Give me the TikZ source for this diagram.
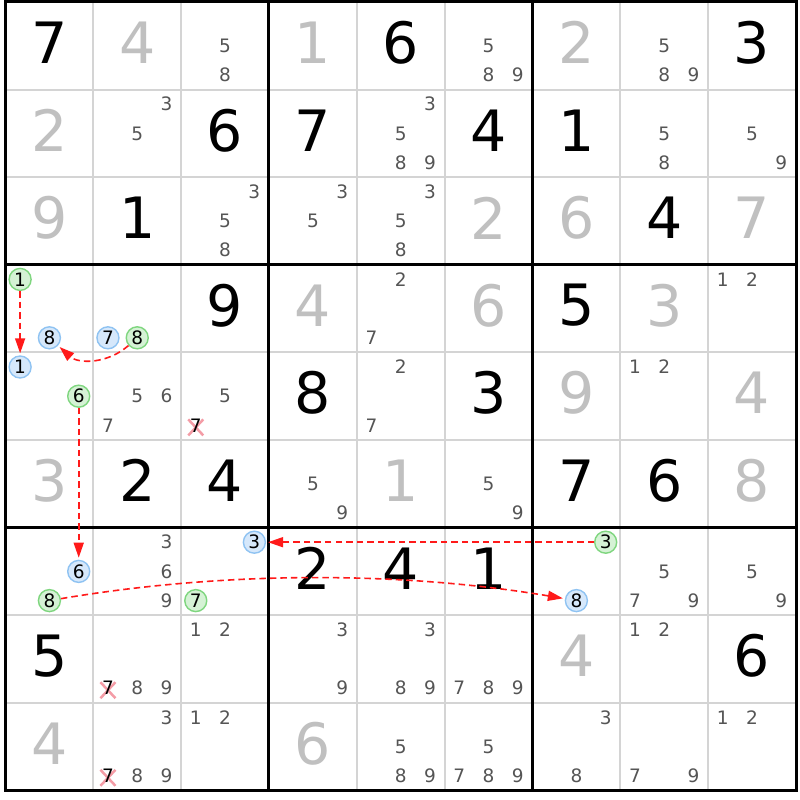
\documentclass[tikz,border=0pt]{standalone}
\usepackage{fontspec}
\setmainfont{DejaVu Sans}
\usetikzlibrary{arrows.meta}
\definecolor{givgray}{HTML}{C0C0C0}
\definecolor{candgray}{HTML}{555555}
\definecolor{gridgray}{HTML}{D4D4D4}
\definecolor{gfill}{HTML}{D5F2D5}
\definecolor{gline}{HTML}{7FD67F}
\definecolor{bfill}{HTML}{D6E8FB}
\definecolor{bline}{HTML}{8FC3F2}
\definecolor{xpink}{HTML}{F49CA6}
\definecolor{linkred}{HTML}{FF1A1A}
\tikzset{
  bigdigit/.style={inner sep=0pt, font=\fontsize{57}{60}\selectfont},
  canddigit/.style={inner sep=0pt, text=candgray, font=\fontsize{18.5}{20}\selectfont},
  xcand/.style={inner sep=0pt, text=black, font=\fontsize{18.5}{20}\selectfont},
  gcirc/.style={circle, draw=gline, fill=gfill, line width=1.4pt, minimum size=22pt, inner sep=0pt, text=black, font=\fontsize{18.5}{20}\selectfont},
  bcirc/.style={circle, draw=bline, fill=bfill, line width=1.4pt, minimum size=22pt, inner sep=0pt, text=black, font=\fontsize{18.5}{20}\selectfont},
  link/.style={draw=linkred, line width=1.6pt, dash pattern=on 6.5pt off 4pt, -{Triangle[length=15pt,width=10pt]}, shorten >=2pt},
  xmark/.style={draw=xpink, line width=2.5pt},
  thinline/.style={draw=gridgray, line width=2pt},
  thickline/.style={draw=black, line width=3pt},
}
\newcommand\bigd[4]{\node[bigdigit,text=#4] (d#1#2) at ({5.5+(#2-0.5)*87.83},{2+(#1-0.5)*87.6-3}) {#3};}
\newcommand\cnd[4]{%
  \pgfmathsetmacro\ddx{mod(#3-1,3)-1}%
  \pgfmathsetmacro\ddy{floor((#3-1)/3)-1}%
  \node[#4] (#4#1#2#3) at ({5.5+(#2-0.5)*87.83+\ddx*29.3},{2+(#1-0.5)*87.6+\ddy*29.2}) {#3};}
\newcommand\xcnd[3]{%
  \pgfmathsetmacro\ddx{mod(#3-1,3)-1}%
  \pgfmathsetmacro\ddy{floor((#3-1)/3)-1}%
  \pgfmathsetmacro\px{5.5+(#2-0.5)*87.83+\ddx*29.3}%
  \pgfmathsetmacro\py{2+(#1-0.5)*87.6+\ddy*29.2+2}%
  \draw[xmark] ({\px-7.5},{\py-8}) -- ({\px+7.5},{\py+8});
  \draw[xmark] ({\px-7.5},{\py+8}) -- ({\px+7.5},{\py-8});
  \cnd{#1}{#2}{#3}{xcand}}
\begin{document}
\begin{tikzpicture}[x=1pt,y=-1pt]
\path[use as bounding box, fill=white] (0,0) rectangle (800,800);
% grid
\foreach \i in {1,2,4,5,7,8} {
  \draw[thinline] ({5.5+\i*87.83},2) -- ({5.5+\i*87.83},790.5);
  \draw[thinline] (5.5,{2+\i*87.6}) -- (796,{2+\i*87.6});
}
\foreach \i in {3,6} {
  \draw[thickline] ({5.5+\i*87.83},2) -- ({5.5+\i*87.83},790.5);
  \draw[thickline] (5.5,{2+\i*87.6}) -- (796,{2+\i*87.6});
}
\draw[thickline] (5.5,2) rectangle (796,790.5);
% big digits
\foreach \r/\c/\d in {1/1/7,1/5/6,1/9/3,2/3/6,2/4/7,2/6/4,2/7/1,3/2/1,3/8/4,4/3/9,4/7/5,5/4/8,5/6/3,6/2/2,6/3/4,6/7/7,6/8/6,7/4/2,7/5/4,7/6/1,8/1/5,8/9/6}
  {\bigd{\r}{\c}{\d}{black}}
\foreach \r/\c/\d in {1/2/4,1/4/1,1/7/2,2/1/2,3/1/9,3/6/2,3/7/6,3/9/7,4/4/4,4/6/6,4/8/3,5/7/9,5/9/4,6/1/3,6/5/1,6/9/8,8/7/4,9/1/4,9/4/6}
  {\bigd{\r}{\c}{\d}{givgray}}
% candidates
\foreach \r/\c/\d in {1/3/5,1/3/8,1/6/5,1/6/8,1/6/9,1/8/5,1/8/8,1/8/9,
  2/2/3,2/2/5,2/5/3,2/5/5,2/5/8,2/5/9,2/8/5,2/8/8,2/9/5,2/9/9,
  3/3/3,3/3/5,3/3/8,3/4/3,3/4/5,3/5/3,3/5/5,3/5/8,
  4/5/2,4/5/7,4/9/1,4/9/2,
  5/2/5,5/2/6,5/2/7,5/3/5,5/5/2,5/5/7,5/8/1,5/8/2,
  6/4/5,6/4/9,6/6/5,6/6/9,
  7/2/3,7/2/6,7/2/9,7/8/5,7/8/7,7/8/9,7/9/5,7/9/9,
  8/2/8,8/2/9,8/3/1,8/3/2,8/4/3,8/4/9,8/5/3,8/5/8,8/5/9,8/6/7,8/6/8,8/6/9,8/8/1,8/8/2,
  9/2/3,9/2/8,9/2/9,9/3/1,9/3/2,9/5/5,9/5/8,9/5/9,9/6/5,9/6/7,9/6/8,9/6/9,9/7/3,9/7/8,9/8/7,9/8/9,9/9/1,9/9/2}
  {\cnd{\r}{\c}{\d}{canddigit}}
% eliminated candidates
\xcnd{5}{3}{7}
\xcnd{8}{2}{7}
\xcnd{9}{2}{7}
% highlighted candidates
\foreach \r/\c/\d in {4/1/1,4/2/8,5/1/6,7/1/8,7/3/7,7/7/3}
  {\cnd{\r}{\c}{\d}{gcirc}}
\foreach \r/\c/\d in {4/1/8,4/2/7,5/1/1,7/1/6,7/3/3,7/7/8}
  {\cnd{\r}{\c}{\d}{bcirc}}
% links
\draw[link] (gcirc411) -- (bcirc511);
\draw[link] (gcirc428) .. controls (107.6,364) and (78.4,364) .. (bcirc418);
\draw[link] (gcirc516) -- (bcirc716);
\draw[link] (gcirc773) -- (bcirc733);
\draw[link] (gcirc718) .. controls (225,571) and (400,571) .. (bcirc778);
\end{tikzpicture}
\end{document}
